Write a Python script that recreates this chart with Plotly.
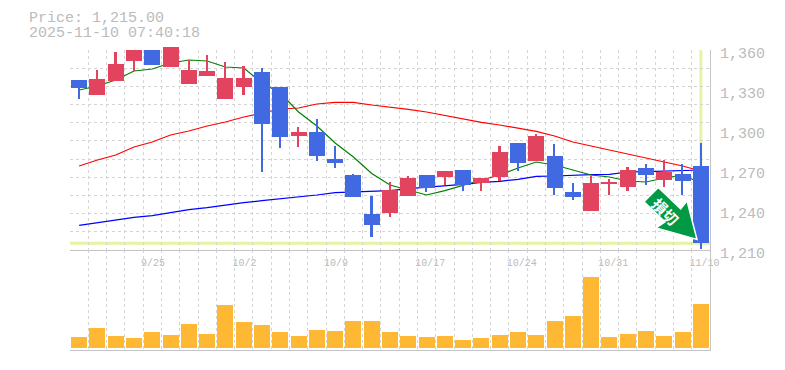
import plotly.graph_objects as go

dates = ["9/18","9/19","9/22","9/24","9/25","9/26","9/29","9/30","10/1","10/2",
         "10/3","10/6","10/7","10/8","10/9","10/10","10/14","10/15","10/16","10/17",
         "10/20","10/21","10/22","10/23","10/24","10/27","10/28","10/29","10/30","10/31",
         "11/4","11/5","11/6","11/7","11/10"]
labelled_dates = ["9/25","10/2","10/9","10/17","10/24","10/31","11/10"]

opens = [1337.5,1326.25,1336.75,1351.75,1360,1347,1334.5,1340.5,1323.25,1332.25,
         1343.5,1332.25,1295.5,1298.5,1278.25,1266.25,1237,1237.75,1250.5,1266.25,
         1264.75,1270,1260.25,1264.75,1290.25,1276.75,1280.5,1253.5,1239.25,1259.5,
         1257.25,1271.5,1262.5,1267,1273]
closes = [1331.5,1338.25,1349.5,1360,1348.75,1362.25,1345,1344.25,1339,1339,
          1304.5,1294.75,1298.5,1280.5,1275.25,1249.75,1228.75,1255,1264,1256.5,
          1269.25,1258.75,1264,1283.5,1275.25,1295.5,1256.5,1249.75,1260.25,1261,
          1270,1266.25,1268.5,1261.75,1215]
highs = [1337.5,1345,1358.5,1360,1360,1362.25,1352.5,1356.25,1351,1348,
         1346.5,1332.25,1302.25,1308.25,1288,1267,1250.5,1261,1265.5,1266.25,
         1269.25,1270,1264,1288,1290.25,1297,1289.5,1260.25,1265.5,1263.25,
         1272.25,1274.5,1277.5,1274.5,1290.25]
lows = [1323.25,1326.25,1336.75,1344.25,1348.75,1347,1334.5,1340.5,1323.25,1326.25,
        1268.5,1286.5,1287.25,1276.75,1271.5,1249.75,1219.75,1234.75,1250.5,1253.5,
        1258.75,1254.25,1254.25,1261.75,1269.25,1276.75,1251.25,1247.5,1239.25,1251.25,
        1254.25,1258.75,1257.25,1251.25,1210.75]
ma_short = [1330,1333,1337.5,1344.25,1345.75,1350.25,1352.5,1351.75,1347.25,1346.5,
            1335.25,1327.75,1313.5,1303,1290.25,1279.75,1267.4,1258.75,1255,1251.25,
            1254.5,1258.75,1262.5,1266.25,1271.5,1276,1273.75,1270,1266.25,1264.75,
            1261.75,1261,1264,1266.25,1260.25]
ma_mid = [1273,1277.5,1281.25,1287.25,1291,1296.25,1299.25,1303,1306,1309.75,
          1312.75,1315.75,1316.5,1319.5,1320.75,1320.75,1318.75,1317.25,1315.5,1313.5,
          1311,1308,1305.75,1303.75,1301.25,1299,1295.5,1291,1288,1285,1282.5,1279,1276,1273,1269.25]
ma_long = [1228.5,1230.5,1232,1234.5,1235.75,1238.25,1240.25,1241.75,1243.75,1245.5,
           1247,1248.25,1250,1251.25,1253,1253.5,1253.75,1254.5,1256,1257,
           1258,1259.25,1260.75,1261.5,1263,1265.25,1265.5,1266.25,1266.5,1266.75,
           1268.5,1268.75,1269.25,1270,1270]
volumes = [11,20,12,10,16,13,24,14,43,26,23,16,12,18,17,27,27,16,12,11,
           12,8,10,13,16,13,27,32,71,11,14,17,12,16,44]
y_ticks = [1210,1240,1270,1300,1330,1360]
y_ticktext = ["1,210","1,240","1,270","1,300","1,330","1,360"]
last_price = 1215
price_text = "Price: 1,215.00"
time_text = "2025-11-10 07:40:18"
signal_text = "損切"

W, H, L, R, T, B = 785, 370, 70, 75, 40, 20
GRID = "#d4d4d4"; TXT = "#bbbbbb"; AXIS = "#c4c4c4"
RED = "#e2435f"; BLUE = "#4169e1"; VOL = "#ffb833"; HL = "#e3f5a2"
MONO = "Liberation Mono, monospace"

xs = list(range(len(dates)))
px = lambda v: (v - L) / (W - L - R)
py = lambda v: (H - B - v) / (H - T - B)

fig = go.Figure()
for vals, col in ((ma_long, "#0000ff"), (ma_mid, "#ff0000"), (ma_short, "#008000")):
    fig.add_trace(go.Scatter(x=xs, y=vals, mode="lines", line=dict(color=col, width=1.2),
                             xaxis="x", yaxis="y", hoverinfo="skip", showlegend=False))

colors = [RED if c >= o else BLUE for o, c in zip(opens, closes)]
fig.add_trace(go.Bar(x=xs, base=lows, y=[h - l for h, l in zip(highs, lows)], width=0.09,
                     marker=dict(color=colors, line_width=0), xaxis="x3", yaxis="y3",
                     showlegend=False))
fig.add_trace(go.Bar(x=xs, base=[min(o, c) for o, c in zip(opens, closes)],
                     y=[abs(o - c) for o, c in zip(opens, closes)], width=0.875,
                     marker=dict(color=colors, line_width=0), xaxis="x3", yaxis="y3",
                     showlegend=False))
fig.add_trace(go.Bar(x=xs, y=volumes, width=0.875, marker=dict(color=VOL, line_width=0),
                     xaxis="x2", yaxis="y2", showlegend=False))

x_edges = [i - 0.5 for i in range(len(dates) + 1)]
y_grid = [1210 + 150 / 11 * k for k in range(12)]
minor_x = dict(tickmode="array", tickvals=x_edges, showgrid=True, gridcolor=GRID,
               griddash="3px,3px", gridwidth=1, ticks="")
# the labels start about 11px left of their candle's centre
SLOT = (W - L - R) / len(dates)
tick_pos = [dates.index(d) + (len(d) * 5.9 / 2 - 11) / SLOT for d in labelled_dates]

arrow = [(658.3, 187.5), (680.7, 209), (687, 200.7), (697, 239.5), (656, 228), (665, 222), (644, 201.7)]
path = "M " + " L ".join(f"{px(a)},{py(b)}" for a, b in arrow) + " Z"

fig.update_layout(
    width=W, height=H, margin=dict(l=L, r=R, t=T, b=B, pad=0, autoexpand=False), autosize=False,
    paper_bgcolor="white", plot_bgcolor="rgba(0,0,0,0)", barmode="overlay", bargap=0,
    showlegend=False,
    xaxis=dict(domain=[0, 1], anchor="y", range=[-0.5, 34.5], showgrid=False,
               tickmode="array", tickvals=tick_pos, ticktext=labelled_dates,
               tickfont=dict(family=MONO, size=10, color=TXT), ticks="", ticklen=0,
               ticklabelstandoff=3, automargin=False,
               showline=True, linecolor=AXIS, linewidth=1, minor=minor_x, zeroline=False),
    xaxis2=dict(domain=[0, 1], anchor="y2", range=[-0.5, 34.5], showgrid=False,
                showticklabels=False, ticks="", showline=True, linecolor=AXIS, linewidth=1,
                minor=minor_x, zeroline=False, automargin=False),
    yaxis=dict(domain=[py(250), py(50)], anchor="x", side="right", range=[1210, 1360], showgrid=False,
               tickmode="array", tickvals=y_ticks, ticktext=y_ticktext,
               tickfont=dict(family=MONO, size=15, color=TXT), ticks="",
               ticklabelstandoff=6, ticklabelshift=3, zeroline=False, automargin=False,
               showline=True, linecolor=AXIS, linewidth=1,
               minor=dict(tickmode="array", tickvals=y_grid, showgrid=True, gridcolor=GRID,
                          griddash="3px,3px", gridwidth=1, ticks="")),
    yaxis2=dict(domain=[0, py(250)], anchor="x2", side="right", range=[-2, 98], showgrid=False,
                showticklabels=False, ticks="", zeroline=False, showline=True,
                linecolor=AXIS, linewidth=1, automargin=False),
    # candles sit on their own pair of axes, slightly taller so the top candle is not clipped
    xaxis3=dict(domain=[0, 1], anchor="y3", range=[-0.5, 34.5], visible=False),
    yaxis3=dict(domain=[py(250), 1], anchor="x3", side="right", range=[1210, 1367.5], visible=False),
    shapes=[
        dict(type="line", xref="paper", x0=0, x1=1, yref="y", y0=last_price, y1=last_price,
             line=dict(color=HL, width=3), layer="below"),
        dict(type="line", xref="x", x0=34, x1=34, yref="paper", y0=py(243), y1=py(50),
             line=dict(color=HL, width=3), layer="below"),
        dict(type="path", xref="paper", yref="paper", path=path, fillcolor="#009944",
             line=dict(color="white", width=1.5), layer="above"),
    ],
    annotations=[
        dict(text=price_text, xref="paper", yref="paper", x=px(26.5), y=py(18.5), xanchor="left",
             yanchor="middle", showarrow=False, font=dict(family=MONO, size=15, color=TXT)),
        dict(text=time_text, xref="paper", yref="paper", x=px(26.5), y=py(33), xanchor="left",
             yanchor="middle", showarrow=False, font=dict(family=MONO, size=15, color=TXT)),
        dict(text=signal_text, xref="paper", yref="paper", x=px(666), y=py(211), xanchor="center",
             yanchor="middle", showarrow=False, textangle=45,
             font=dict(family="Noto Sans CJK JP", size=15, color="white", weight="bold")),
    ],
)
fig.write_html("out.html", config=dict(displayModeBar=False),
               post_script="document.body.style.margin='0';document.body.style.overflow='hidden';")
